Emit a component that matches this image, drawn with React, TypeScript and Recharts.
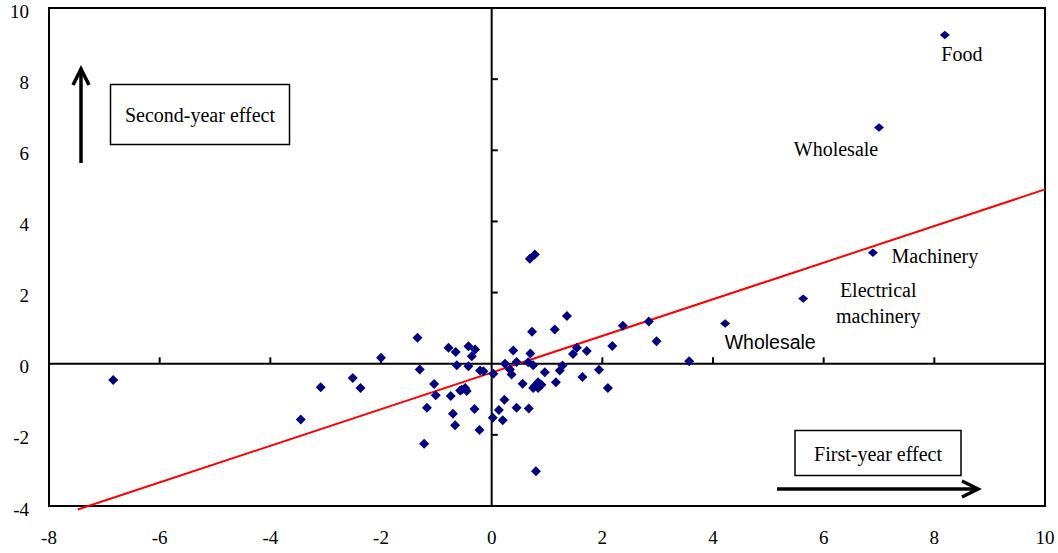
import React from 'react';
import { ScatterChart, Scatter, XAxis, YAxis, ReferenceLine, ReferenceArea } from 'recharts';

const xTicks = [-8, -6, -4, -2, 0, 2, 4, 6, 8, 10];
const yTicks = [-4, -2, 0, 2, 4, 6, 8, 10];

// [first-year effect, second-year effect]
const industryPoints = [
  { x: -6.84, y: -0.46 }, { x: -3.45, y: -1.57 }, { x: -3.09, y: -0.66 }, { x: -2.51, y: -0.4 },
  { x: -2.37, y: -0.68 }, { x: -2.0, y: 0.17 }, { x: -1.34, y: 0.73 }, { x: -1.3, y: -0.16 },
  { x: -1.17, y: -1.24 }, { x: -1.22, y: -2.25 }, { x: -1.04, y: -0.57 }, { x: -1.01, y: -0.89 },
  { x: -0.78, y: 0.45 }, { x: -0.65, y: 0.33 }, { x: -0.63, y: -0.04 }, { x: -0.42, y: 0.49 },
  { x: -0.3, y: 0.4 }, { x: -0.36, y: 0.21 }, { x: -0.42, y: -0.07 }, { x: -0.21, y: -0.19 },
  { x: -0.15, y: -0.21 }, { x: 0.03, y: -0.28 }, { x: -0.54, y: -0.73 }, { x: -0.48, y: -0.68 },
  { x: -0.57, y: -0.75 }, { x: -0.45, y: -0.77 }, { x: -0.74, y: -0.91 }, { x: -0.7, y: -1.41 },
  { x: -0.66, y: -1.73 }, { x: -0.31, y: -1.27 }, { x: -0.22, y: -1.86 }, { x: 0.02, y: -1.52 },
  { x: 0.13, y: -1.3 }, { x: 0.2, y: -1.59 }, { x: 0.23, y: -1.01 }, { x: 0.45, y: -1.24 },
  { x: 0.67, y: -1.26 }, { x: 0.8, y: -3.02 }, { x: 0.69, y: 2.95 }, { x: 0.78, y: 3.07 },
  { x: 0.73, y: 0.9 }, { x: 1.14, y: 0.96 }, { x: 1.36, y: 1.34 }, { x: 0.39, y: 0.37 },
  { x: 0.7, y: 0.29 }, { x: 0.24, y: 0.0 }, { x: 0.45, y: 0.05 }, { x: 0.66, y: 0.04 },
  { x: 0.75, y: -0.04 }, { x: 0.33, y: -0.16 }, { x: 0.36, y: -0.3 }, { x: 1.28, y: -0.05 },
  { x: 1.23, y: -0.19 }, { x: 0.96, y: -0.24 }, { x: 0.56, y: -0.56 }, { x: 0.84, y: -0.52 },
  { x: 0.78, y: -0.63 }, { x: 0.9, y: -0.59 }, { x: 0.84, y: -0.68 }, { x: 0.75, y: -0.68 },
  { x: 1.16, y: -0.52 }, { x: 2.1, y: -0.68 }, { x: 1.94, y: -0.17 }, { x: 1.64, y: -0.37 },
  { x: 1.47, y: 0.27 }, { x: 1.54, y: 0.45 }, { x: 1.72, y: 0.36 }, { x: 2.18, y: 0.5 },
  { x: 2.37, y: 1.07 }, { x: 2.84, y: 1.19 }, { x: 2.98, y: 0.63 }, { x: 3.57, y: 0.07 },
];

const labeledPoints = [
  { x: 8.19, y: 9.24, name: 'Food' },
  { x: 7.0, y: 6.64, name: 'Wholesale' },
  { x: 6.89, y: 3.12, name: 'Machinery' },
  { x: 5.63, y: 1.83, name: 'Electrical machinery' },
  { x: 4.22, y: 1.13, name: 'Wholesale ' },
];

const fitLine = [{ x: -7.48, y: -4.1 }, { x: 10, y: 4.9 }];

const SERIF = '"Liberation Serif", "Times New Roman", serif';
const SANS = '"Liberation Sans", Arial, sans-serif';
const NAVY = '#000080';

const labelStyle: Record<string, { lines: string[]; dx: number; dy: number; font: string; lh?: number }> = {
  'Food': { lines: ['Food'], dx: 17, dy: 19, font: SERIF },
  'Wholesale': { lines: ['Wholesale'], dx: -43, dy: 21, font: SERIF },
  'Machinery': { lines: ['Machinery'], dx: 62, dy: 3, font: SERIF },
  'Electrical machinery': { lines: ['Electrical', 'machinery'], dx: 75, dy: -9, font: SERIF, lh: 26 },
  'Wholesale ': { lines: ['Wholesale'], dx: 45, dy: 18, font: SANS },
};

const diamondPath = (cx: number, cy: number, w: number, h: number) =>
  `M${cx},${cy - h}L${cx + w},${cy}L${cx},${cy + h}L${cx - w},${cy}Z`;

const Diamond = (props: any) => {
  const { cx, cy } = props;
  if (cx == null || cy == null) return null;
  return <path d={diamondPath(cx, cy, 5, 5)} fill={NAVY} />;
};

const LabeledDiamond = (props: any) => {
  const { cx, cy } = props;
  if (cx == null || cy == null) return null;
  const name = props.payload?.name ?? props.name;
  const st = labelStyle[name];
  return (
    <g>
      <path d={diamondPath(cx, cy, 5, 4.2)} fill={NAVY} />
      {st &&
        st.lines.map((ln, i) => (
          <text
            key={i}
            x={cx + st.dx}
            y={cy + st.dy + i * (st.lh ?? 0)}
            textAnchor="middle"
            dominantBaseline="central"
            fontFamily={st.font}
            fontSize={st.font === SANS ? 19.5 : 20}
            fill="#000"
          >
            {ln}
          </text>
        ))}
    </g>
  );
};

const YTick = (props: any) => {
  const { x, y, payload } = props;
  return (
    <text x={x} y={y + 3} textAnchor="end" dominantBaseline="central" fontFamily={SERIF} fontSize={19} fill="#000">
      {payload.value}
    </text>
  );
};

export default function App() {
  const tickFont = { fontFamily: SERIF, fontSize: 19, fill: '#000' };
  return (
    <div style={{ position: 'absolute', left: 0, top: 0, width: 1058, height: 553, background: '#fff' }}>
      <ScatterChart width={1058} height={553} margin={{ top: 8, right: 13, bottom: 0, left: 0 }}>
        <XAxis
          type="number"
          dataKey="x"
          domain={[-8, 10]}
          ticks={xTicks}
          axisLine={false}
          tickLine={false}
          tickMargin={19}
          height={47}
          tick={tickFont}
          interval={0}
          allowDataOverflow
        />
        <YAxis
          type="number"
          dataKey="y"
          domain={[-4, 10]}
          ticks={yTicks}
          axisLine={false}
          tickLine={false}
          tickMargin={14}
          width={49}
          tick={<YTick />}
          interval={0}
          allowDataOverflow
        />
        <ReferenceArea x1={-8} x2={10} y1={-4} y2={10} fill="none" fillOpacity={0} stroke="#000" strokeWidth={2} />
        <ReferenceLine y={0} stroke="#000" strokeWidth={2} />
        <ReferenceLine x={0} stroke="#000" strokeWidth={2} />
        {xTicks.filter((t) => t !== 0).map((t) => (
          <ReferenceLine key={'xt' + t} segment={[{ x: t, y: 0 }, { x: t, y: 0.18 }]} stroke="#000" strokeWidth={2} />
        ))}
        {yTicks.filter((t) => t !== 0).map((t) => (
          <ReferenceLine key={'yt' + t} segment={[{ x: 0, y: t }, { x: 0.11, y: t }]} stroke="#000" strokeWidth={2} />
        ))}
        <ReferenceLine segment={fitLine} stroke="#ff0000" strokeWidth={2} ifOverflow="visible" />
        <Scatter data={industryPoints} shape={Diamond} isAnimationActive={false} />
        <Scatter data={labeledPoints} shape={LabeledDiamond} isAnimationActive={false} />
      </ScatterChart>
      <svg width={1058} height={553} style={{ position: 'absolute', left: 0, top: 0, pointerEvents: 'none' }}>
        <rect x={110.5} y={84.5} width={179} height={60} fill="#fff" stroke="#000" strokeWidth={1.5} />
        <text x={200} y={115} textAnchor="middle" dominantBaseline="central" fontFamily={SERIF} fontSize={20} fill="#000">
          Second-year effect
        </text>
        <line x1={81} y1={163} x2={81} y2={70} stroke="#000" strokeWidth={3.5} />
        <polyline points="73,85 81,69 89,85" fill="none" stroke="#000" strokeWidth={3.5} />
        <rect x={795} y={430.5} width={166} height={45} fill="#fff" stroke="#000" strokeWidth={1.5} />
        <text x={878} y={454} textAnchor="middle" dominantBaseline="central" fontFamily={SERIF} fontSize={20} fill="#000">
          First-year effect
        </text>
        <line x1={777} y1={489} x2={976} y2={489} stroke="#000" strokeWidth={3.5} />
        <polyline points="962,481 978,489 962,497" fill="none" stroke="#000" strokeWidth={3.5} />
      </svg>
    </div>
  );
}
